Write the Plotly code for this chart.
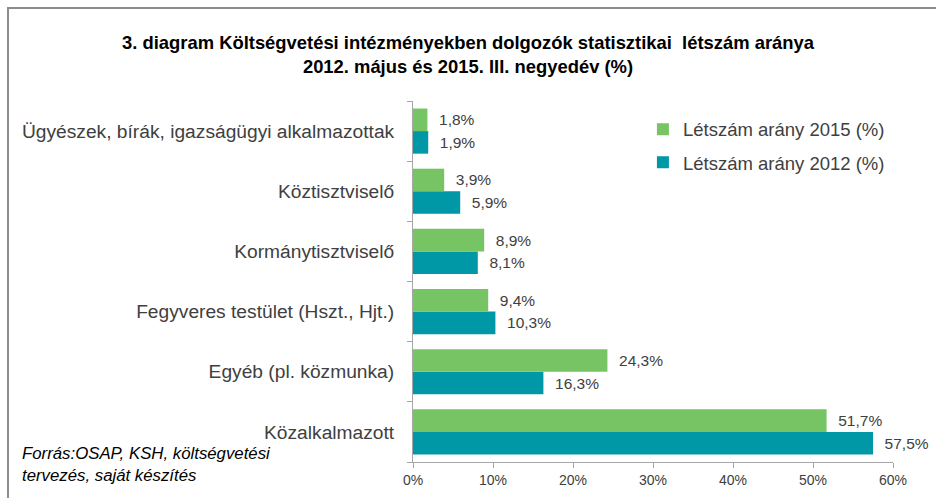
import plotly.graph_objects as go

categories = ["Közalkalmazott", "Egyéb (pl. közmunka)", "Fegyveres testület (Hszt., Hjt.)",
              "Kormánytisztviselő", "Köztisztviselő", "Ügyészek, bírák, igazságügyi alkalmazottak"]
values_2015 = [51.7, 24.3, 9.4, 8.9, 3.9, 1.8]
values_2012 = [57.5, 16.3, 10.3, 8.1, 5.9, 1.9]
x_ticks = [0, 10, 20, 30, 40, 50, 60]
x_tick_labels = ["0%", "10%", "20%", "30%", "40%", "50%", "60%"]

FONT = "Liberation Sans, Arial"
TXT = "#404040"

def fmt(v):
    return "\u00a0\u00a0" + f"{v:.1f}".replace(".", ",") + "%"

fig = go.Figure()
fig.add_trace(go.Bar(
    y=categories, x=values_2012, orientation="h", name="Létszám arány 2012 (%)",
    legendgroup="a", legendrank=2,
    marker=dict(color="#0097A7", line=dict(width=0)), text=[fmt(v) for v in values_2012],
    textposition="outside", constraintext="none",
    textfont=dict(size=15.5, color=TXT, family=FONT), cliponaxis=False))
fig.add_trace(go.Bar(
    y=categories, x=values_2015, orientation="h", name="Létszám arány 2015 (%)",
    legendgroup="b", legendrank=1,
    marker=dict(color="#77C465", line=dict(width=0)), text=[fmt(v) for v in values_2015],
    textposition="outside", constraintext="none",
    textfont=dict(size=15.5, color=TXT, family=FONT), cliponaxis=False))

fig.update_layout(
    width=936, height=498,
    paper_bgcolor="white", plot_bgcolor="white",
    barmode="group", bargap=0.25, bargroupgap=0,
    margin=dict(l=413, r=43, t=101, b=36, autoexpand=False),
    font=dict(family=FONT, color=TXT),
    title=dict(text="<b>3. diagram Költségvetési intézményekben dolgozók statisztikai  létszám aránya<br>2012. május és 2015. III. negyedév (%)</b>",
               x=0.5, xanchor="center", y=0.902, yanchor="middle",
               font=dict(size=18.4, color="#000000", family=FONT)),
    legend=dict(x=0.479, y=0.973, xanchor="left", yanchor="top", traceorder="grouped",
                font=dict(size=18.5, color=TXT, family=FONT), bgcolor="rgba(0,0,0,0)",
                itemwidth=30, tracegroupgap=6),
    showlegend=True,
)
fig.update_xaxes(range=[0, 60], tickvals=x_ticks, ticktext=x_tick_labels, automargin=False,
                 showgrid=False, zeroline=False, showline=True, linecolor="#A6A6A6",
                 ticks="outside", ticklen=5, tickcolor="#A6A6A6",
                 tickfont=dict(size=14, color=TXT, family=FONT))
fig.update_yaxes(showgrid=False, showline=True, linecolor="#A6A6A6", automargin=False,
                 ticks="outside", ticklen=5, tickcolor="#A6A6A6", tickson="boundaries",
                 ticklabelstandoff=14,
                 tickfont=dict(size=19.2, color=TXT, family=FONT))

fig.add_annotation(text="<i>Forrás:OSAP, KSH, költségvetési<br>tervezés, saját készítés</i>",
                   xref="paper", yref="paper", x=(20 - 413) / 480, y=(462 - 442) / 361,
                   xanchor="left", yanchor="top", align="left", showarrow=False,
                   font=dict(size=16.8, color="#000000", family=FONT))
fig.add_shape(type="rect", xref="paper", yref="paper",
              x0=(8 - 413) / 480, x1=1.2, y0=-0.3, y1=(462 - 8) / 361,
              line=dict(color="#8C8C8C", width=2), fillcolor="rgba(0,0,0,0)", layer="below")

fig.write_html("out.html", config={"displayModeBar": False},
               post_script="document.body.style.margin='0';")
